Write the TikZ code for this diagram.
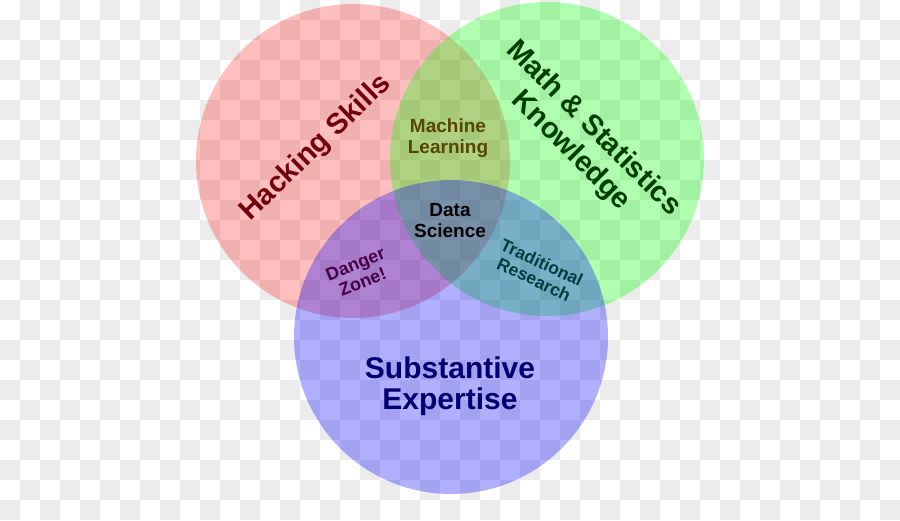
\documentclass[tikz,border=0pt]{standalone}
\usepackage{fontspec}
\setmainfont{Liberation Sans}
\begin{document}
\begin{tikzpicture}[x=1pt,y=-1pt,
  venn/.style={circle, draw=none, minimum size=314pt, inner sep=0pt},
  big/.style={font=\bfseries\fontsize{29}{32}\selectfont, align=center, inner sep=0pt},
  mid/.style={font=\bfseries\fontsize{19}{21}\selectfont, align=center, inner sep=0pt},
  small/.style={font=\bfseries\fontsize{17.5}{18.5}\selectfont, align=center, inner sep=0pt}]
\definecolor{checkgray}{RGB}{236,236,236}
\definecolor{hackcol}{RGB}{115,0,10}
\definecolor{mathcol}{RGB}{0,62,0}
\definecolor{mlcol}{RGB}{85,70,0}
\definecolor{dzcol}{RGB}{70,0,70}
\definecolor{trcol}{RGB}{0,62,62}
\definecolor{secol}{RGB}{0,0,115}
\useasboundingbox (0,0) rectangle (900,520);
\fill[white] (0,0) rectangle (900,520);
\foreach \i in {0,...,44}{
  \foreach \j in {0,...,25}{
    \pgfmathtruncatemacro\s{mod(\i+\j,2)}
    \ifnum\s=1 \fill[checkgray] (\i*20,\j*20) rectangle ++(20,20);\fi
  }
}
\node[venn, fill={rgb,255:red,255;green,0;blue,0}, fill opacity=0.25] (hack) at (353,161) {};
\node[venn, fill={rgb,255:red,0;green,255;blue,0}, fill opacity=0.31] (math) at (547,159) {};
\node[venn, fill={rgb,255:red,0;green,0;blue,255}, fill opacity=0.31] (subst) at (451,337) {};
\node[big, text=hackcol, rotate=44] (hacklbl) at (316,148) {Hacking Skills};
\node[big, text=mathcol, rotate=-45] (mathlbl) at (582,140) {Math \& Statistics\\Knowledge};
\node[big, text=secol, font=\bfseries\fontsize{30}{31}\selectfont] (selbl) at (450,386) {Substantive\\Expertise};
\node[mid, text=mlcol] (ml) at (448,138) {Machine\\Learning};
\node[mid, text=black] (ds) at (450,221) {Data\\Science};
\node[small, text=dzcol, rotate=22, font=\bfseries\fontsize{18}{19}\selectfont] (dz) at (359,273) {Danger\\Zone!};
\node[small, text=trcol, rotate=-25] (tr) at (538,271) {Traditional\\Research};
\end{tikzpicture}
\end{document}
